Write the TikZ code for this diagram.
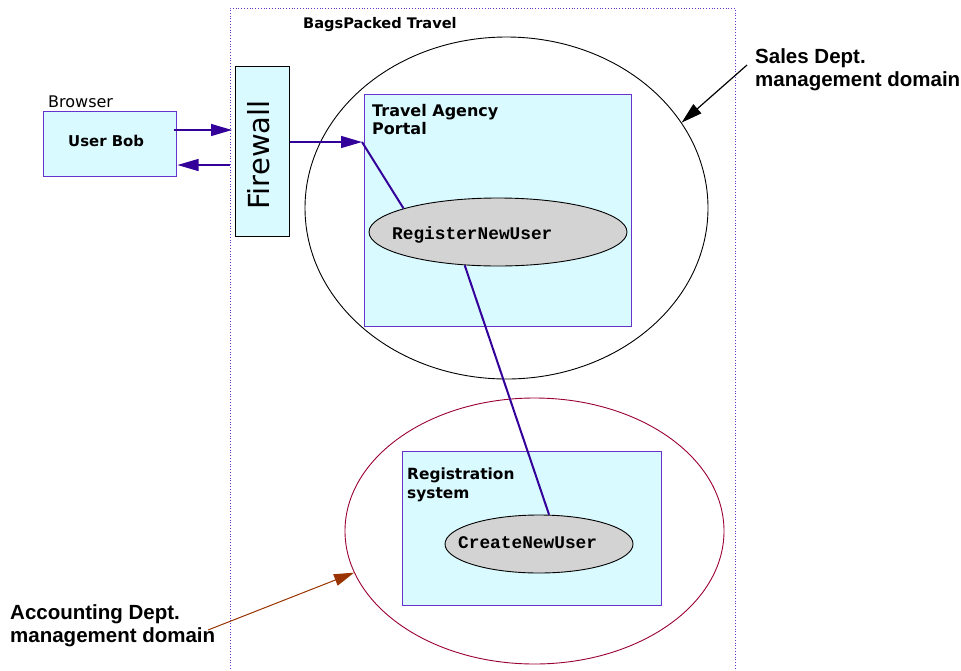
\documentclass[tikz,border=0pt]{standalone}
\usepackage{fontspec}
\setmainfont{DejaVu Sans}
\newfontfamily\arialfont{Liberation Sans}
\newfontfamily\courfont{Liberation Mono}
\usetikzlibrary{shapes.geometric,arrows.meta}
\definecolor{boxfill}{HTML}{D9FAFF}
\definecolor{boxline}{HTML}{6633CC}
\definecolor{conn}{HTML}{330099}
\definecolor{ellgray}{HTML}{D3D3D3}
\definecolor{domred}{HTML}{990033}
\definecolor{arrred}{HTML}{993300}
\tikzset{
  sysbox/.style={draw=boxline, line width=1pt, fill=boxfill, rectangle, inner sep=0pt},
  opell/.style={draw=black, line width=0.9pt, fill=ellgray, ellipse, inner sep=0pt},
  domell/.style={ellipse, inner sep=0pt, line width=0.9pt},
  boldlbl/.style={anchor=base west, inner sep=0pt, align=left},
  domlbl/.style={font=\arialfont\fontsize{20.5}{23}\selectfont\bfseries, anchor=base west, inner sep=0pt, align=left},
  oplbl/.style={font=\courfont\fontsize{17.8}{20}\selectfont\bfseries, anchor=base west, inner sep=0pt},
  tip/.style={-{Triangle[length=21pt,width=12pt]}},
}
\begin{document}
\begin{tikzpicture}[x=1pt,y=-1pt]
\useasboundingbox (0,0) rectangle (961,670);
% enclosing dotted boundary
\draw[boxline, dotted, line width=0.8pt] (230,680) -- (230,8) -- (735,8) -- (735,680);
\node[boldlbl, font=\fontsize{14.6}{18}\selectfont\bfseries] (bags) at (303,28) {BagsPacked Travel};
% domains
\node[domell, draw=black, minimum width=403pt, minimum height=342pt] (sales) at (506.5,208) {};
\node[domell, draw=domred, minimum width=379pt, minimum height=266pt] (acct) at (534.5,531) {};
% browser
\node[sysbox, minimum width=133pt, minimum height=65pt] (bob) at (109.5,143.5) {};
\node[font=\fontsize{16}{18}\selectfont, anchor=base west, inner sep=0pt] (browser) at (48,107) {Browser};
\node[font=\fontsize{14.9}{17}\selectfont\bfseries, anchor=base west, inner sep=0pt] (boblbl) at (68,146) {User Bob};
% firewall
\node[draw=black, line width=1pt, fill=boxfill, minimum width=54pt, minimum height=170pt, inner sep=0pt] (fw) at (262,151) {};
\node[rotate=90, font=\fontsize{29}{32}\selectfont, inner sep=0pt] (fwlbl) at (259,155) {Firewall};
% portal
\node[sysbox, minimum width=267pt, minimum height=232pt] (portal) at (497.5,210) {};
\node[boldlbl, font=\fontsize{16}{18}\selectfont\bfseries] (portallbl) at (372,134) {Travel Agency\\Portal};
\node[opell, minimum width=258pt, minimum height=68pt] (reg) at (498,232) {};
\node[oplbl] (reglbl) at (392,239) {RegisterNewUser};
% registration system
\node[sysbox, minimum width=259pt, minimum height=154pt] (regsys) at (531.5,528) {};
\node[boldlbl, font=\fontsize{15.4}{19}\selectfont\bfseries] (regsyslbl) at (407,498) {Registration\\system};
\node[opell, minimum width=188pt, minimum height=58pt] (create) at (539,544) {};
\node[oplbl] (createlbl) at (458,548) {CreateNewUser};
% connectors
\coordinate (fwin) at (232,130);
\coordinate (fwout) at (230,165);
\coordinate (pin) at (362,142);
\draw[conn, line width=1.2pt, tip] ([xshift=-3pt]bob.east |- fwin) -- (fwin);
\draw[conn, line width=1.2pt, tip] (fwout) -- ([xshift=1pt]bob.east |- fwout);
\draw[conn, line width=1.3pt, tip] (fw.east |- pin) -- (pin);
\draw[conn, line width=2pt] (pin) -- (reg.166);
\draw[conn, line width=2pt] (reg.225) -- (create.71);
% domain labels
\node[domlbl] (saleslbl) at (755,86) {Sales Dept.\\management domain};
\coordinate (salesfrom) at (747,65);
\draw[black, line width=1.2pt, tip] (salesfrom) -- (sales.26);
\node[domlbl] (acctlbl) at (10,642) {Accounting Dept.\\management domain};
\coordinate (acctfrom) at (208,630);
\draw[arrred, line width=1pt, -{Triangle[length=20pt,width=12pt]}] (acctfrom) -- (acct.193);
\end{tikzpicture}
\end{document}
